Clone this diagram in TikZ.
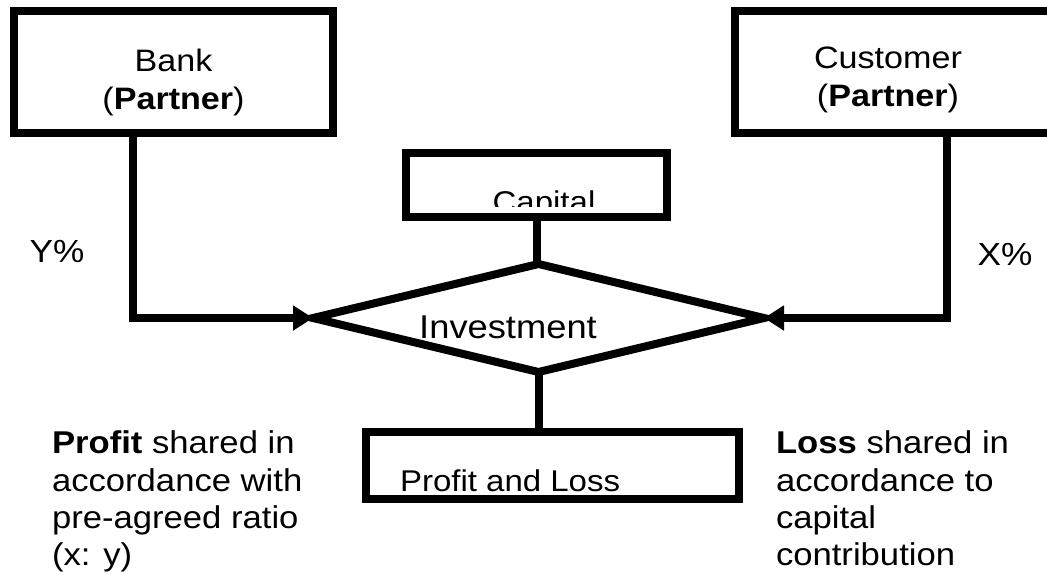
\documentclass[tikz,border=0pt]{standalone}
\usepackage{fontspec}
\setmainfont{Liberation Sans}[FakeStretch=1.1]
\usetikzlibrary{shapes.geometric,arrows.meta}
\begin{document}
\begin{tikzpicture}[x=1pt,y=-1pt,
  lw/.style={line width=8pt},
  box/.style={draw,lw,rectangle,inner sep=0pt,outer sep=4pt},
  conn/.style={draw,lw},
  arr/.style={conn,-{Triangle[length=20pt,width=24pt]}},
  txt/.style={inner sep=0pt,outer sep=0pt}]
\useasboundingbox (0,0) rectangle (1047,574);
\fill[white] (0,0) rectangle (1047,574);
% boxes
\node[box,minimum width=319pt,minimum height=122pt] (bank) at (173.5,72) {};
\node[box,minimum width=365pt,minimum height=122pt] (cust) at (917.5,72) {};
\node[box,minimum width=261pt,minimum height=64pt] (cap) at (536.5,185) {};
\node[draw,lw,diamond,inner sep=0pt,outer sep=0pt,minimum width=451pt,minimum height=108pt] (inv) at (538.5,318) {};
\node[box,minimum width=373pt,minimum height=67pt] (pl) at (552.5,465.5) {};
% texts
\node[txt,align=center,font=\fontsize{31}{38}\selectfont] (banktxt) at (173.5,82) {Bank\\(\textbf{Partner})};
\node[txt,align=center,font=\fontsize{31}{38}\selectfont] (custtxt) at (888,80) {Customer\\(\textbf{Partner})};
\begin{scope}
\clip (405,145) rectangle (670,206);
\node[txt,anchor=base,font=\fontsize{30}{36}\selectfont] (captxt) at (544,212) {Capital};
\end{scope}
\node[txt,anchor=base,font=\fontsize{33}{40}\selectfont] (invtxt) at (508,338) {Investment};
\node[txt,anchor=base west,font=\fontsize{30}{36}\selectfont] (pltxt) at (400,491) {Profit and Loss};
\node[txt,font=\fontsize{32}{36}\selectfont] (ytxt) at (57,251) {Y\%};
\node[txt,font=\fontsize{32}{36}\selectfont] (xtxt) at (1005,254) {X\%};
\node[txt,anchor=north west,align=left,font=\fontsize{31.5}{37.3}\selectfont] (proftxt) at (52,431)
  {\textbf{Profit} shared in\\accordance with\\pre-agreed ratio\\(x: y)};
\node[txt,anchor=north west,align=left,font=\fontsize{31.5}{37.3}\selectfont] (losstxt) at (776,431)
  {\textbf{Loss} shared in\\accordance to\\capital\\contribution};
% connectors
\draw[arr] ([xshift=-40.5pt]bank.south) |- (inv.west);
\draw[arr] ([xshift=29.5pt]cust.south) |- (inv.east);
\draw[conn] (cap.south) -- (cap.south |- inv.north);
\draw[conn] (inv.south) -- (inv.south |- pl.north);
\end{tikzpicture}
\end{document}
